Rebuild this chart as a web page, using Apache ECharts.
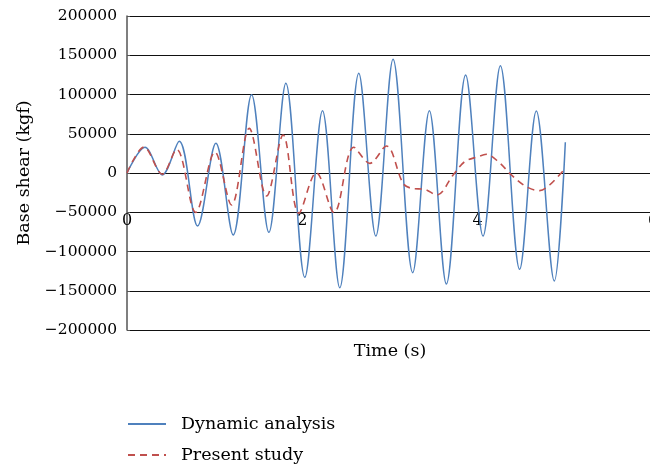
<!DOCTYPE html>
<html>
<head>
<meta charset="utf-8">
<title>Base shear time history</title>
<script src="https://cdn.jsdelivr.net/npm/echarts@6/dist/echarts.min.js"></script>
<style>
  html, body { margin: 0; padding: 0; background: #fff; }
  #chart { width: 650px; height: 468px; }
</style>
</head>
<body>
<div id="chart"></div>
<script>
// Dynamic analysis: time (s) and base shear (kgf) at successive peaks and troughs
const dynTime = [0, 0.205, 0.402, 0.596, 0.805, 1.014, 1.211, 1.421, 1.618, 1.812, 2.028,
  2.23, 2.427, 2.644, 2.838, 3.035, 3.259, 3.449, 3.643, 3.863, 4.061, 4.259, 4.479,
  4.669, 4.874, 5.0];
const dynShear = [0, 32700, -2500, 40400, -67500, 37800, -79000, 99800, -75600, 114200, -132900,
  79400, -146100, 127000, -80300, 144800, -127000, 79400, -141400, 124800, -80300, 136700, -122700,
  79000, -137600, 39100];

// Present study: time (s) and base shear (kgf)
const presTime = [0, 0.194, 0.402, 0.566, 0.783, 1.003, 1.193, 1.394, 1.592, 1.781, 1.96,
  2.16, 2.362, 2.587, 2.77, 2.959, 3.149, 3.244, 3.4, 3.536, 3.72, 3.852, 4.004, 4.099,
  4.25, 4.384, 4.555, 4.707, 4.82, 4.98];
const presShear = [0, 33000, -1500, 30200, -50200, 26700, -40800, 56900, -29300, 48400, -51300,
  500, -50500, 32800, 12300, 34300, -13200, -19500, -21000, -28000, -2500, 14400, 20800, 23800,
  13000, -2500, -17400, -22500, -15300, 3500];

// Axis ranges
const timeTicks = [0, 2, 4, 6];
const shearTicks = [-200000, -150000, -100000, -50000, 0, 50000, 100000, 150000, 200000];

const seriesNames = ['Dynamic analysis', 'Present study'];

const pairs = (xs, ys) => xs.map((x, i) => [x, ys[i]]);
const FONT = 'DejaVu Serif';

const chart = echarts.init(document.getElementById('chart'), null, { renderer: 'canvas' });

chart.setOption({
  animation: false,
  backgroundColor: '#ffffff',
  textStyle: { fontFamily: FONT, color: '#000' },
  grid: {
    left: 127, top: 16, width: 526, height: 314,
    containLabel: false, outerBoundsMode: 'none'
  },
  xAxis: {
    type: 'value',
    min: timeTicks[0],
    max: timeTicks[timeTicks.length - 1],
    interval: timeTicks[1] - timeTicks[0],
    name: 'Time (s)',
    nameLocation: 'middle',
    nameGap: 12,
    nameTextStyle: { fontFamily: FONT, fontSize: 17.5, color: '#000' },
    // the zero line itself comes from the y split lines; tick labels sit just under it
    axisLine: { show: false, onZero: false },
    axisTick: { show: false },
    axisLabel: { margin: -117, fontFamily: FONT, fontSize: 16, color: '#000' },
    splitLine: { show: false }
  },
  yAxis: {
    type: 'value',
    min: shearTicks[0],
    max: shearTicks[shearTicks.length - 1],
    interval: shearTicks[1] - shearTicks[0],
    name: 'Base shear (kgf)',
    nameLocation: 'middle',
    nameGap: 92,
    nameTextStyle: { fontFamily: FONT, fontSize: 17.5, color: '#000' },
    axisLine: { show: true, onZero: false, lineStyle: { color: '#555', width: 1.5 } },
    axisTick: { show: true, inside: true, length: 3, lineStyle: { color: '#555' } },
    axisLabel: {
      margin: 10, fontFamily: FONT, fontSize: 15.5, color: '#000',
      formatter: v => (v < 0 ? '\u2212' + Math.abs(v) : String(v))
    },
    splitLine: { show: true, lineStyle: { color: '#111', width: 1 } }
  },
  legend: {
    orient: 'vertical',
    left: 127,
    top: 415,
    height: 62,
    padding: 0,
    itemWidth: 38,
    itemHeight: 14,
    itemGap: 13,
    itemStyle: { opacity: 0 },
    textStyle: { fontFamily: FONT, fontSize: 17.5, color: '#000', padding: [0, 0, 0, 10] },
    data: seriesNames
  },
  series: [
    {
      name: seriesNames[0],
      type: 'line',
      data: pairs(dynTime, dynShear),
      smooth: 0.34,
      symbol: 'none',
      lineStyle: { color: '#4F81BD', width: 1.5 },
      itemStyle: { color: '#4F81BD' },
      z: 2
    },
    {
      name: seriesNames[1],
      type: 'line',
      data: pairs(presTime, presShear),
      smooth: 0.34,
      symbol: 'none',
      lineStyle: { color: '#C0504D', width: 1.6, type: [7, 5] },
      itemStyle: { color: '#C0504D' },
      z: 3
    }
  ]
});
</script>
</body>
</html>
